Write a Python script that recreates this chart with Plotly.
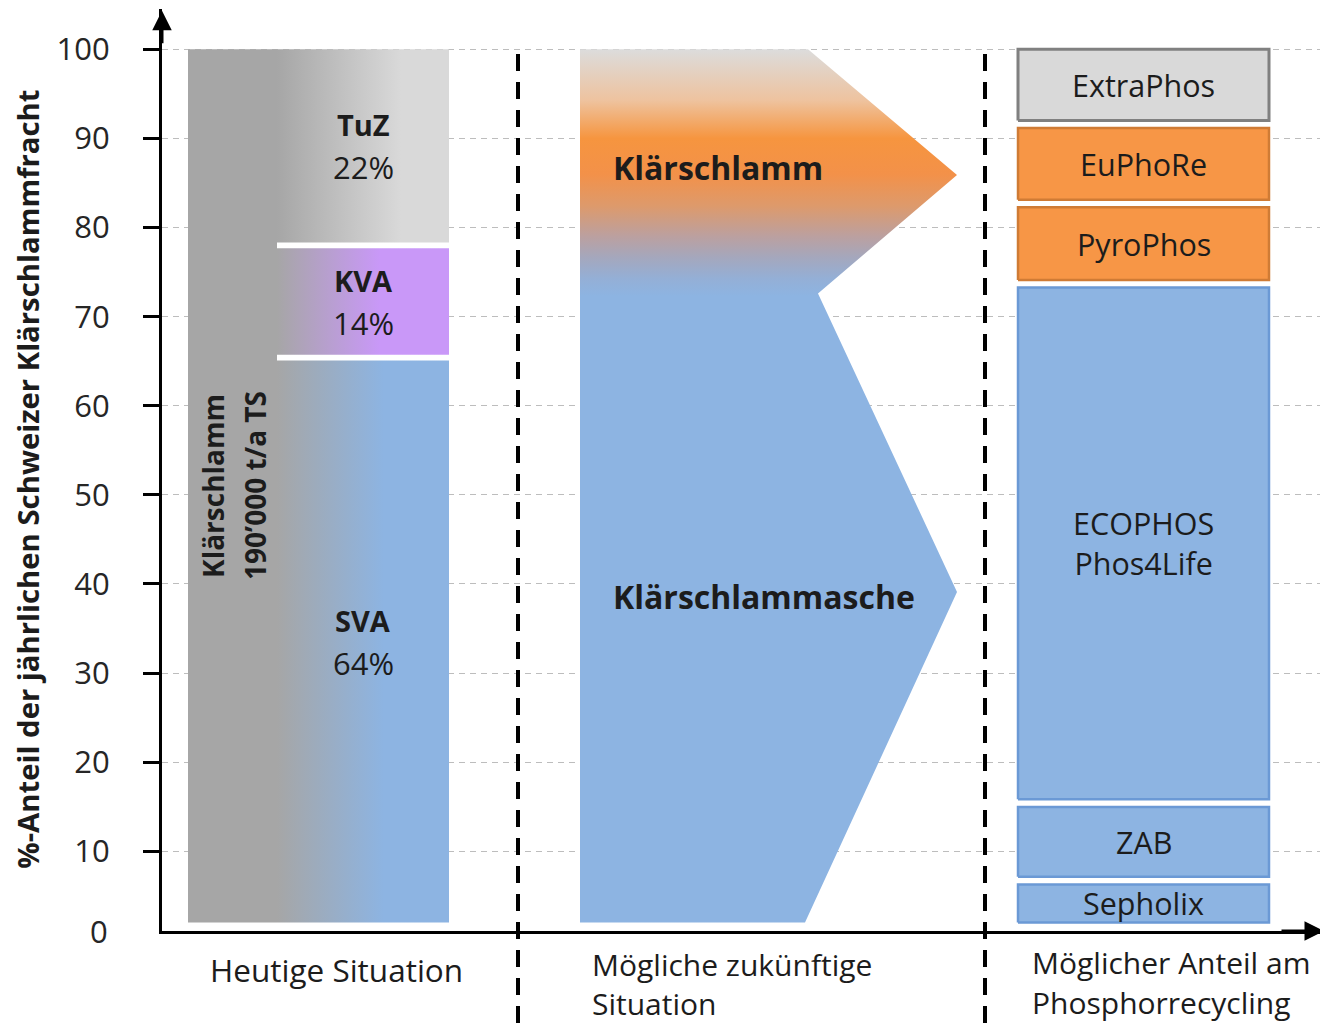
import plotly.graph_objects as go

# ---------------- data ----------------
y_tick_values = [10, 20, 30, 40, 50, 60, 70, 80, 90, 100]
y_tick_labels = ["10", "20", "30", "40", "50", "60", "70", "80", "90", "100"]
zero_label = "0"
y_title = "%-Anteil der jährlichen Schweizer Klärschlammfracht"

category_lines = [
    ["Heutige Situation"],
    ["Mögliche zukünftige", "Situation"],
    ["Möglicher Anteil am", "Phosphorrecycling"],
]

# column 1: today's situation (stacked from bottom)
today_names = ["SVA", "KVA", "TuZ"]
today_shares = ["64%", "14%", "22%"]
today_values = [65.4, 12.6, 22.0]
today_total = ["Klärschlamm", "190’000 t/a TS"]

# column 2: possible future situation (bottom -> top)
future_names = ["Klärschlammasche", "Klärschlamm"]
future_values = [72.6, 27.4]

# column 3: possible share of phosphorus recycling (bottom -> top)
recycling_names = ["Sepholix", "ZAB", "ECOPHOS<br>Phos4Life", "PyroPhos", "EuPhoRe", "ExtraPhos"]
recycling_values = [6.7, 8.7, 58.3, 9.0, 8.9, 8.4]

# ---------------- layout / style constants ----------------
W, H = 1320, 1023
M_L, M_R, M_T, M_B = 162, 0, 9, 92
PLOT_H = H - M_T - M_B
PLOT_W = W - M_L - M_R
X_RANGE = [0, 1158]
Y_RANGE = [1.05, 104.53]
BASE = 2.0
FONT = "Open Sans"
INK = "#1c1c1c"

C1_TOTAL = (26, 115)
C1_PARTS = (115, 287)
SEP_X = [356, 823]
ARROW_LEFT, ARROW_TOP_RIGHT, ARROW_TIP, ARROW_NOTCH, ARROW_BOTTOM_RIGHT = 418, 646, 795, 656, 643
ARROW_TIPS_Y = [39.1, 85.9]
C3 = (856, 1107)
GAP1 = 0.65
GAP3 = 0.85

GRAY0 = "#a6a6a6"
today_colors = ["#8db4e2", "#c998f8", "#d9d9d9"]
today_reach = [0.62, 0.6, 0.72]
rec_fill = ["#8db4e2", "#8db4e2", "#8db4e2", "#f79646", "#f79646", "#d9d9d9"]
rec_line = ["#6b99d5", "#6b99d5", "#6b99d5", "#cf7b35", "#cf7b35", "#808080"]


def px_paper(x):
    return (x - X_RANGE[0]) / (X_RANGE[1] - X_RANGE[0])


def py_paper(y):
    return (y - Y_RANGE[0]) / (Y_RANGE[1] - Y_RANGE[0])


def below_axis(pixels_below):
    return -pixels_below / PLOT_H


def rect(x0, x1, y0, y1):
    return [x0, x1, x1, x0, x0], [y0, y0, y1, y1, y0]


fig = go.Figure()
annotations = []

# ---- column 1 ----
xs, ys = rect(C1_TOTAL[0], C1_TOTAL[1], BASE, sum(today_values))
fig.add_trace(go.Scatter(x=xs, y=ys, fill="toself", fillcolor=GRAY0, mode="lines",
                         line=dict(width=0), hoverinfo="skip", showlegend=False))
cum = 0
for i, v in enumerate(today_values):
    lo = BASE if i == 0 else cum + GAP1 / 2
    hi = cum + v if i == len(today_values) - 1 else cum + v - GAP1 / 2
    xs, ys = rect(C1_PARTS[0], C1_PARTS[1], lo, hi)
    fig.add_trace(go.Scatter(
        x=xs, y=ys, fill="toself", mode="lines", line=dict(width=0),
        fillgradient=dict(type="horizontal", start=C1_PARTS[0], stop=C1_PARTS[1],
                          colorscale=[[0, GRAY0], [today_reach[i], today_colors[i]], [1, today_colors[i]]]),
        hoverinfo="skip", showlegend=False))
    mid = (lo + hi) / 2
    cx = (C1_PARTS[0] + C1_PARTS[1]) / 2
    annotations.append(dict(x=cx, y=mid + 2.4, text="<b>%s</b>" % today_names[i], showarrow=False,
                            font=dict(family=FONT, size=29, color=INK)))
    annotations.append(dict(x=cx, y=mid - 2.4, text=today_shares[i], showarrow=False,
                            font=dict(family=FONT, size=31, color=INK)))
    cum += v

total_mid = (BASE + sum(today_values)) / 2
for k, line in enumerate(today_total):
    annotations.append(dict(x=[51, 93][k], y=total_mid, text="<b>%s</b>" % line, textangle=-90,
                            showarrow=False, font=dict(family=FONT, size=28, color=INK)))

# ---- column 2: arrow ----
top = sum(future_values)
ax_ = [ARROW_LEFT, ARROW_BOTTOM_RIGHT, ARROW_TIP, ARROW_NOTCH, ARROW_TIP, ARROW_TOP_RIGHT, ARROW_LEFT, ARROW_LEFT]
ay_ = [BASE, BASE, ARROW_TIPS_Y[0], future_values[0], ARROW_TIPS_Y[1], top, top, BASE]
fig.add_trace(go.Scatter(
    x=ax_, y=ay_, fill="toself", mode="lines", line=dict(width=0),
    fillgradient=dict(type="vertical", start=0, stop=100,
                      colorscale=[[0, "#8db4e2"], [0.723, "#8db4e2"], [0.743, "#94afd6"],
                                  [0.767, "#a5a7bc"], [0.79, "#bba0a0"], [0.824, "#dd9a6c"],
                                  [0.86, "#f39149"], [0.90, "#f6953f"], [0.943, "#eec39f"],
                                  [1, "#dcdcdc"]]),
    hoverinfo="skip", showlegend=False))
annotations.append(dict(x=602, y=ARROW_TIPS_Y[0] - 0.5, text="<b>%s</b>" % future_names[0], showarrow=False,
                        font=dict(family=FONT, size=32, color=INK)))
annotations.append(dict(x=556, y=ARROW_TIPS_Y[1] + 0.8, text="<b>%s</b>" % future_names[1], showarrow=False,
                        font=dict(family=FONT, size=32, color=INK)))

# ---- column 3: boxes ----
cum = 0
for i, v in enumerate(recycling_values):
    lo = BASE if i == 0 else cum + GAP3 / 2
    hi = cum + v if i == len(recycling_values) - 1 else cum + v - GAP3 / 2
    xs, ys = rect(C3[0], C3[1], lo, hi)
    fig.add_trace(go.Scatter(x=xs, y=ys, fill="toself", fillcolor=rec_fill[i], mode="lines",
                             line=dict(width=3 if i == 5 else 2.5, color=rec_line[i]),
                             hoverinfo="skip", showlegend=False))
    annotations.append(dict(x=(C3[0] + C3[1]) / 2, y=(lo + hi) / 2, text=recycling_names[i],
                            showarrow=False, font=dict(family=FONT, size=30.5, color=INK)))
    cum += v

# ---- category labels under the axis (paper y so they are not hidden) ----
cat_x = [(174, "center"), (428, "left"), (868, "left")]
cat_px = [[39], [33, 72], [31, 71]]
cat_size = [31.5, 30, 30]
for (x, anchor), lines, pp, fs in zip(cat_x, category_lines, cat_px, cat_size):
    for line, p in zip(lines, pp):
        annotations.append(dict(xref="x", yref="paper", x=x, y=below_axis(p), text=line, xanchor=anchor,
                                yanchor="middle", showarrow=False,
                                font=dict(family=FONT, size=fs, color=INK)))

# ---- y title and zero label ----
annotations.append(dict(xref="paper", yref="y", x=(28 - M_L) / PLOT_W, y=51.7, text="<b>%s</b>" % y_title,
                        textangle=-90, xanchor="center", yanchor="middle", showarrow=False,
                        font=dict(family=FONT, size=29.3, color=INK)))
annotations.append(dict(xref="paper", yref="paper", x=(110 - M_L) / PLOT_W, y=0, text=zero_label,
                        xanchor="right", yanchor="middle", showarrow=False,
                        font=dict(family=FONT, size=31, color="#262626")))

# ---- axis arrowheads ----
annotations.append(dict(x=0, y=Y_RANGE[1] - 0.2, ax=0, ay=Y_RANGE[1] - 4, axref="x", ayref="y", text="",
                        showarrow=True, arrowhead=2, arrowsize=1.3, arrowwidth=3, arrowcolor="black"))
annotations.append(dict(x=X_RANGE[1] + 4, y=Y_RANGE[0], ax=X_RANGE[1] - 40, ay=Y_RANGE[0], axref="x", ayref="y",
                        text="", showarrow=True, arrowhead=2, arrowsize=1.3, arrowwidth=3, arrowcolor="black"))

# ---- dashed separators ----
shapes = []
for sx in SEP_X:
    shapes.append(dict(type="line", xref="paper", yref="paper", x0=px_paper(sx), x1=px_paper(sx),
                       y0=-M_B / PLOT_H, y1=py_paper(100.3),
                       line=dict(color="black", width=4, dash="17px,11px")))

fig.update_layout(
    width=W, height=H,
    margin=dict(l=M_L, r=M_R, t=M_T, b=M_B, pad=0),
    paper_bgcolor="white", plot_bgcolor="white",
    font=dict(family=FONT, color=INK),
    annotations=annotations, shapes=shapes,
    xaxis=dict(range=X_RANGE, showgrid=False, zeroline=False, showticklabels=False, ticks="",
               showline=True, linewidth=3, linecolor="black", fixedrange=True),
    yaxis=dict(range=Y_RANGE, tickvals=y_tick_values, ticktext=y_tick_labels,
               showgrid=True, gridcolor="#bdbdbd", gridwidth=1, griddash="6px,5px",
               zeroline=False, showline=True, linewidth=3, linecolor="black",
               ticks="outside", ticklen=16, tickwidth=3, tickcolor="black",
               ticklabelstandoff=27,
               tickfont=dict(family=FONT, size=31, color="#262626"), fixedrange=True),
)

fig.write_html("out.html", config={"displayModeBar": False},
               post_script="document.body.style.margin='0px';document.body.style.overflow='hidden';")
